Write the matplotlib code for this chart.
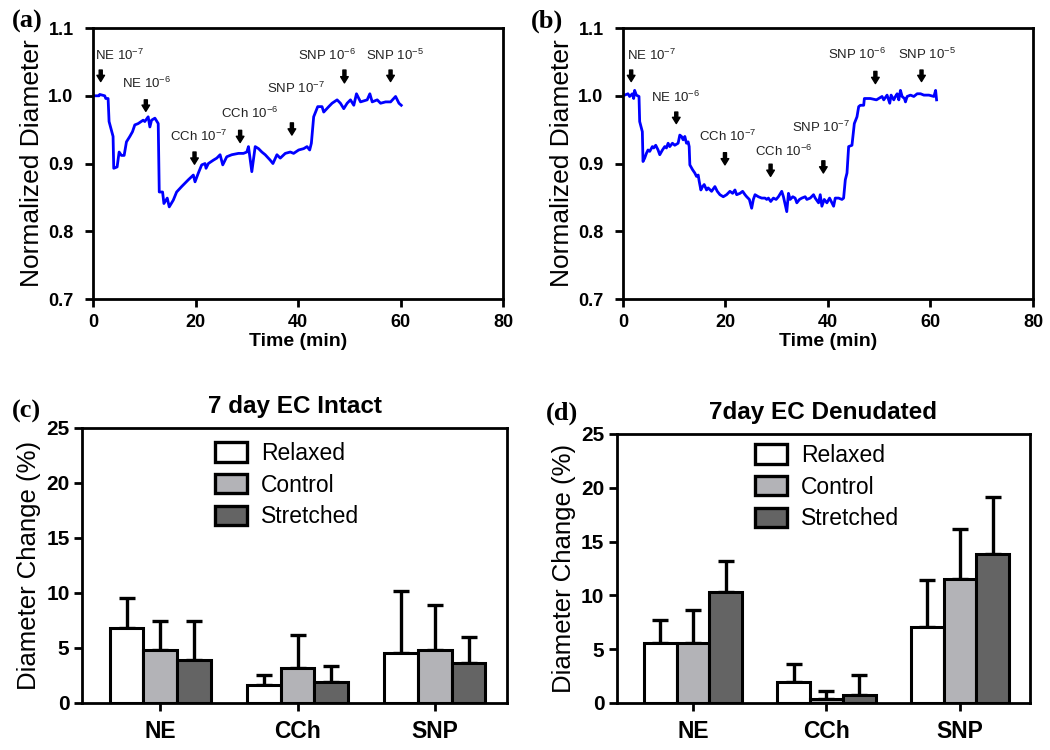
import matplotlib
matplotlib.use("Agg")
import matplotlib.pyplot as plt
import numpy as np

plt.rcParams['font.family'] = ['Liberation Sans', 'DejaVu Sans']
plt.rcParams['mathtext.fontset'] = 'custom'
plt.rcParams['mathtext.rm'] = 'Liberation Sans'

# ---------------- Panel (a) trace ----------------
time_a = [0, 1.17, 1.3, 2.28, 2.48, 2.94, 3.13, 3.91, 4.04, 4.70, 5.09, 5.54, 6.07, 6.52, 7.18, 7.70,
          8.15, 8.81, 9.78, 10.1, 10.76, 11.09, 11.42, 12.07, 12.72, 12.92, 13.57, 13.83, 14.48, 14.87,
          15.66, 16.31, 17.29, 17.94, 18.59, 19.57, 19.9, 20.55, 21.2, 21.85, 22.05, 22.5, 23.48, 24.14,
          24.79, 25.31, 26.09, 27.07, 28.38, 29.35, 30.0, 30.33, 30.98, 31.64, 32.29, 32.94, 33.59,
          34.57, 35.1, 35.88, 36.53, 37.51, 38.49, 39.14, 40.12, 41.1, 41.75, 42.27, 42.6, 43.05, 43.84,
          44.68, 45.01, 45.99, 46.64, 47.62, 48.27, 48.92, 49.58, 50.23, 50.88, 51.4, 52.19, 53.49,
          54.01, 54.47, 55.45, 56.1, 57.08, 58.06, 59.03, 59.69, 60.14]
diam_a = [1.000, 1.000, 1.002, 1.000, 0.996, 0.996, 0.962, 0.940, 0.893, 0.895, 0.917, 0.912, 0.912,
          0.932, 0.940, 0.947, 0.957, 0.959, 0.964, 0.962, 0.969, 0.954, 0.964, 0.967, 0.959, 0.858,
          0.858, 0.841, 0.849, 0.836, 0.846, 0.858, 0.866, 0.871, 0.876, 0.883, 0.873, 0.886, 0.898,
          0.900, 0.893, 0.900, 0.905, 0.908, 0.913, 0.898, 0.910, 0.913, 0.915, 0.915, 0.917, 0.925,
          0.888, 0.925, 0.922, 0.917, 0.913, 0.905, 0.900, 0.913, 0.908, 0.915, 0.917, 0.915, 0.920,
          0.922, 0.925, 0.920, 0.930, 0.969, 0.984, 0.984, 0.976, 0.984, 0.989, 0.994, 0.989, 0.981,
          0.989, 0.994, 0.986, 1.003, 0.991, 0.994, 1.003, 0.991, 0.994, 0.989, 0.991, 0.991, 0.999,
          0.989, 0.986]

# ---------------- Panel (b) trace ----------------
time_b = [0, 0.98, 1.30, 1.83, 2.09, 2.28, 2.61, 3.13, 3.26, 3.78, 3.91, 4.24, 4.57, 4.89, 5.22, 5.74,
          6.0, 6.39, 6.85, 7.18, 7.70, 8.15, 8.48, 8.81, 9.13, 9.65, 10.11, 10.76, 11.09, 11.42, 11.74,
          12.07, 12.39, 12.72, 12.92, 13.05, 13.57, 14.02, 14.35, 14.68, 14.87, 15.2, 15.53, 15.85,
          16.31, 16.63, 17.29, 17.94, 18.4, 18.92, 19.57, 20.22, 20.87, 21.4, 21.85, 22.18, 22.83,
          23.35, 23.81, 24.14, 24.66, 25.11, 25.44, 25.77, 26.42, 27.07, 27.72, 28.05, 28.38, 28.83,
          29.35, 29.88, 30.33, 30.98, 31.31, 31.96, 32.29, 32.62, 33.14, 33.59, 33.92, 34.44, 34.9,
          35.55, 35.88, 36.53, 37.18, 37.51, 38.16, 38.49, 38.81, 39.27, 39.79, 40.31, 41.1, 41.42,
          42.07, 42.73, 43.05, 43.38, 43.71, 44.03, 44.68, 45.14, 45.66, 45.99, 46.32, 46.97, 47.1,
          47.62, 48.27, 49.45, 49.9, 50.55, 50.88, 51.53, 52.05, 52.32, 52.84, 53.16, 53.49, 53.82,
          54.14, 54.47, 54.92, 55.12, 55.45, 56.1, 56.75, 57.4, 58.06, 58.71, 59.69, 60.67, 61.0, 61.19]
diam_b = [1.000, 1.003, 0.999, 1.003, 0.996, 1.008, 1.001, 0.999, 0.962, 0.947, 0.903, 0.908, 0.915,
          0.920, 0.918, 0.925, 0.923, 0.927, 0.920, 0.913, 0.920, 0.925, 0.923, 0.930, 0.925, 0.930,
          0.927, 0.930, 0.942, 0.940, 0.935, 0.940, 0.930, 0.932, 0.925, 0.898, 0.891, 0.886, 0.881,
          0.883, 0.874, 0.861, 0.866, 0.869, 0.861, 0.864, 0.859, 0.866, 0.859, 0.854, 0.851, 0.854,
          0.859, 0.856, 0.861, 0.854, 0.856, 0.859, 0.854, 0.851, 0.847, 0.834, 0.847, 0.854, 0.851,
          0.849, 0.849, 0.847, 0.849, 0.844, 0.849, 0.847, 0.851, 0.859, 0.851, 0.829, 0.856, 0.847,
          0.851, 0.849, 0.842, 0.847, 0.849, 0.851, 0.847, 0.849, 0.854, 0.849, 0.842, 0.854, 0.837,
          0.847, 0.842, 0.849, 0.837, 0.849, 0.849, 0.847, 0.849, 0.876, 0.886, 0.925, 0.927, 0.959,
          0.969, 0.984, 0.986, 0.986, 0.996, 0.996, 0.996, 0.994, 0.996, 0.999, 0.994, 1.001, 0.989,
          1.001, 0.994, 0.999, 1.003, 0.994, 1.008, 0.999, 0.996, 0.991, 0.999, 1.001, 0.999, 1.003,
          1.003, 1.001, 1.001, 0.999, 1.008, 0.994]

# annotations: label, arrow time, arrow tip, arrow tail, label x, label y
ann_labels = ['NE 10$^{\\mathregular{-7}}$', 'NE 10$^{\\mathregular{-6}}$', 'CCh 10$^{\\mathregular{-7}}$',
              'CCh 10$^{\\mathregular{-6}}$', 'SNP 10$^{\\mathregular{-7}}$', 'SNP 10$^{\\mathregular{-6}}$',
              'SNP 10$^{\\mathregular{-5}}$']
ann_a_t = [1.5, 10.3, 19.8, 28.7, 38.8, 49.05, 58.05]
ann_a_tip = [1.021, 0.977, 0.899, 0.931, 0.942, 1.019, 1.021]
ann_a_tail = [1.038, 0.994, 0.917, 0.949, 0.960, 1.038, 1.038]
ann_a_lx = [5.1, 10.4, 20.5, 30.5, 39.5, 45.7, 59.0]
ann_a_ly = [1.060, 1.018, 0.940, 0.974, 1.011, 1.060, 1.060]

ann_b_t = [1.6, 10.4, 19.9, 28.8, 39.1, 49.25, 58.25]
ann_b_tip = [1.021, 0.959, 0.898, 0.881, 0.886, 1.018, 1.021]
ann_b_tail = [1.038, 0.976, 0.916, 0.899, 0.904, 1.036, 1.038]
ann_b_lx = [5.5, 10.3, 20.5, 31.4, 38.6, 45.7, 59.4]
ann_b_ly = [1.060, 0.998, 0.940, 0.918, 0.954, 1.061, 1.061]

# ---------------- Bar panels ----------------
drugs = ['NE', 'CCh', 'SNP']
groups = ['Relaxed', 'Control', 'Stretched']
group_colors = ['#ffffff', '#b3b3b7', '#646464']

intact_mean = [[6.78, 1.61, 4.50],   # Relaxed
               [4.86, 3.22, 4.80],   # Control
               [3.89, 1.91, 3.59]]   # Stretched
intact_err = [[2.72, 0.97, 5.68],
              [2.62, 2.95, 4.10],
              [3.59, 1.43, 2.43]]

denud_mean = [[5.58, 1.92, 7.06],
              [5.58, 0.40, 11.55],
              [10.29, 0.71, 13.88]]
denud_err = [[2.16, 1.70, 4.40],
             [3.09, 0.68, 4.62],
             [2.94, 1.86, 5.23]]

W, H = 1050, 750
fig = plt.figure(figsize=(W / 100, H / 100), dpi=100)

def style_axes(ax, pad):
    for s in ax.spines.values():
        s.set_linewidth(2)
    ax.tick_params(axis='both', which='both', direction='out', width=2, length=6,
                   top=False, right=False, pad=pad)
    for lab in ax.get_xticklabels() + ax.get_yticklabels():
        lab.set_fontweight('bold')

def trace_panel(rect, t, d, at, atip, atail, lx, ly, letter, letter_xy):
    ax = fig.add_axes(rect)
    ax.plot(t, d, color='#0000ff', lw=2)
    ax.set_xlim(0, 80)
    ax.set_ylim(0.7, 1.1)
    ax.set_xticks([0, 20, 40, 60, 80])
    ax.set_yticks([0.7, 0.8, 0.9, 1.0, 1.1])
    ax.set_yticklabels(['0.7', '0.8', '0.9', '1.0', '1.1'])
    ax.tick_params(labelsize=13)
    style_axes(ax, 5)
    ax.tick_params(axis='y', pad=8)
    ax.set_xlabel('Time (min)', fontsize=14, fontweight='bold', labelpad=1)
    ax.set_ylabel('Normalized Diameter', fontsize=19, labelpad=3)
    for lab, x, tip, tail, tx, ty in zip(ann_labels, at, atip, atail, lx, ly):
        ax.annotate('', xy=(x, tip), xytext=(x, tail),
                    arrowprops=dict(arrowstyle='simple,head_width=0.55,head_length=0.45,tail_width=0.22',
                                    color='black', shrinkA=0, shrinkB=0))
        ax.text(tx, ty, lab, fontsize=9.5, ha='center', va='center', color='#222222')
    fig.text(letter_xy[0] / W, 1 - letter_xy[1] / H, letter, fontsize=19, fontweight='bold',
             family='Liberation Serif', ha='left', va='center')
    return ax

trace_panel([0.0886, 0.6013, 0.3905, 0.3613], time_a, diam_a, ann_a_t, ann_a_tip, ann_a_tail,
            ann_a_lx, ann_a_ly, '(a)', (12, 21))
trace_panel([0.5933, 0.6013, 0.3905, 0.3613], time_b, diam_b, ann_b_t, ann_b_tip, ann_b_tail,
            ann_b_lx, ann_b_ly, '(b)', (531, 21))

def bar_panel(rect, means, errs, title, letter, letter_xy, legx, legoff):
    ax = fig.add_axes(rect)
    x = np.arange(len(drugs))
    w = 0.245
    for i, (g, c) in enumerate(zip(groups, group_colors)):
        pos = x + (i - 1) * w
        ax.bar(pos, means[i], width=w, color=c, edgecolor='black', linewidth=2.2, label=g, zorder=2)
        ax.errorbar(pos, means[i], yerr=[np.zeros(len(drugs)), errs[i]], fmt='none',
                    ecolor='black', elinewidth=2.4, capsize=6, capthick=2.4, zorder=1)
    ax.set_xlim(-0.57, 2.525)
    ax.set_ylim(0, 25)
    ax.set_yticks([0, 5, 10, 15, 20, 25])
    ax.set_xticks(x)
    ax.set_xticklabels(drugs)
    ax.tick_params(axis='y', labelsize=15)
    ax.tick_params(axis='x', labelsize=16.5)
    style_axes(ax, 3)
    ax.tick_params(axis='x', pad=6)
    ax.set_ylabel('Diameter Change (%)', fontsize=18.5, labelpad=4)
    ax.set_title(title, fontsize=17.5, fontweight='bold', pad=11)
    leg = ax.legend(loc='upper left', bbox_to_anchor=(legx, 1 - legoff / (rect[3] * H)), frameon=False,
                    fontsize=16.5, handlelength=1.4, handleheight=0.92, labelspacing=0.38,
                    handletextpad=0.6, borderpad=0, borderaxespad=0)
    for p in leg.get_patches():
        p.set_linewidth(2.4)
    fig.text(letter_xy[0] / W, 1 - letter_xy[1] / H, letter, fontsize=19, fontweight='bold',
             family='Liberation Serif', ha='left', va='center')
    return ax

bar_panel([0.0781, 0.0627, 0.4048, 0.3667], intact_mean, intact_err, '7 day EC Intact', '(c)',
          (12, 411), 0.313, 14)
bar_panel([0.5876, 0.0627, 0.3933, 0.3587], denud_mean, denud_err, '7day EC Denudated', '(d)',
          (546, 413), 0.334, 10)

fig.savefig('out.png', dpi=100)
